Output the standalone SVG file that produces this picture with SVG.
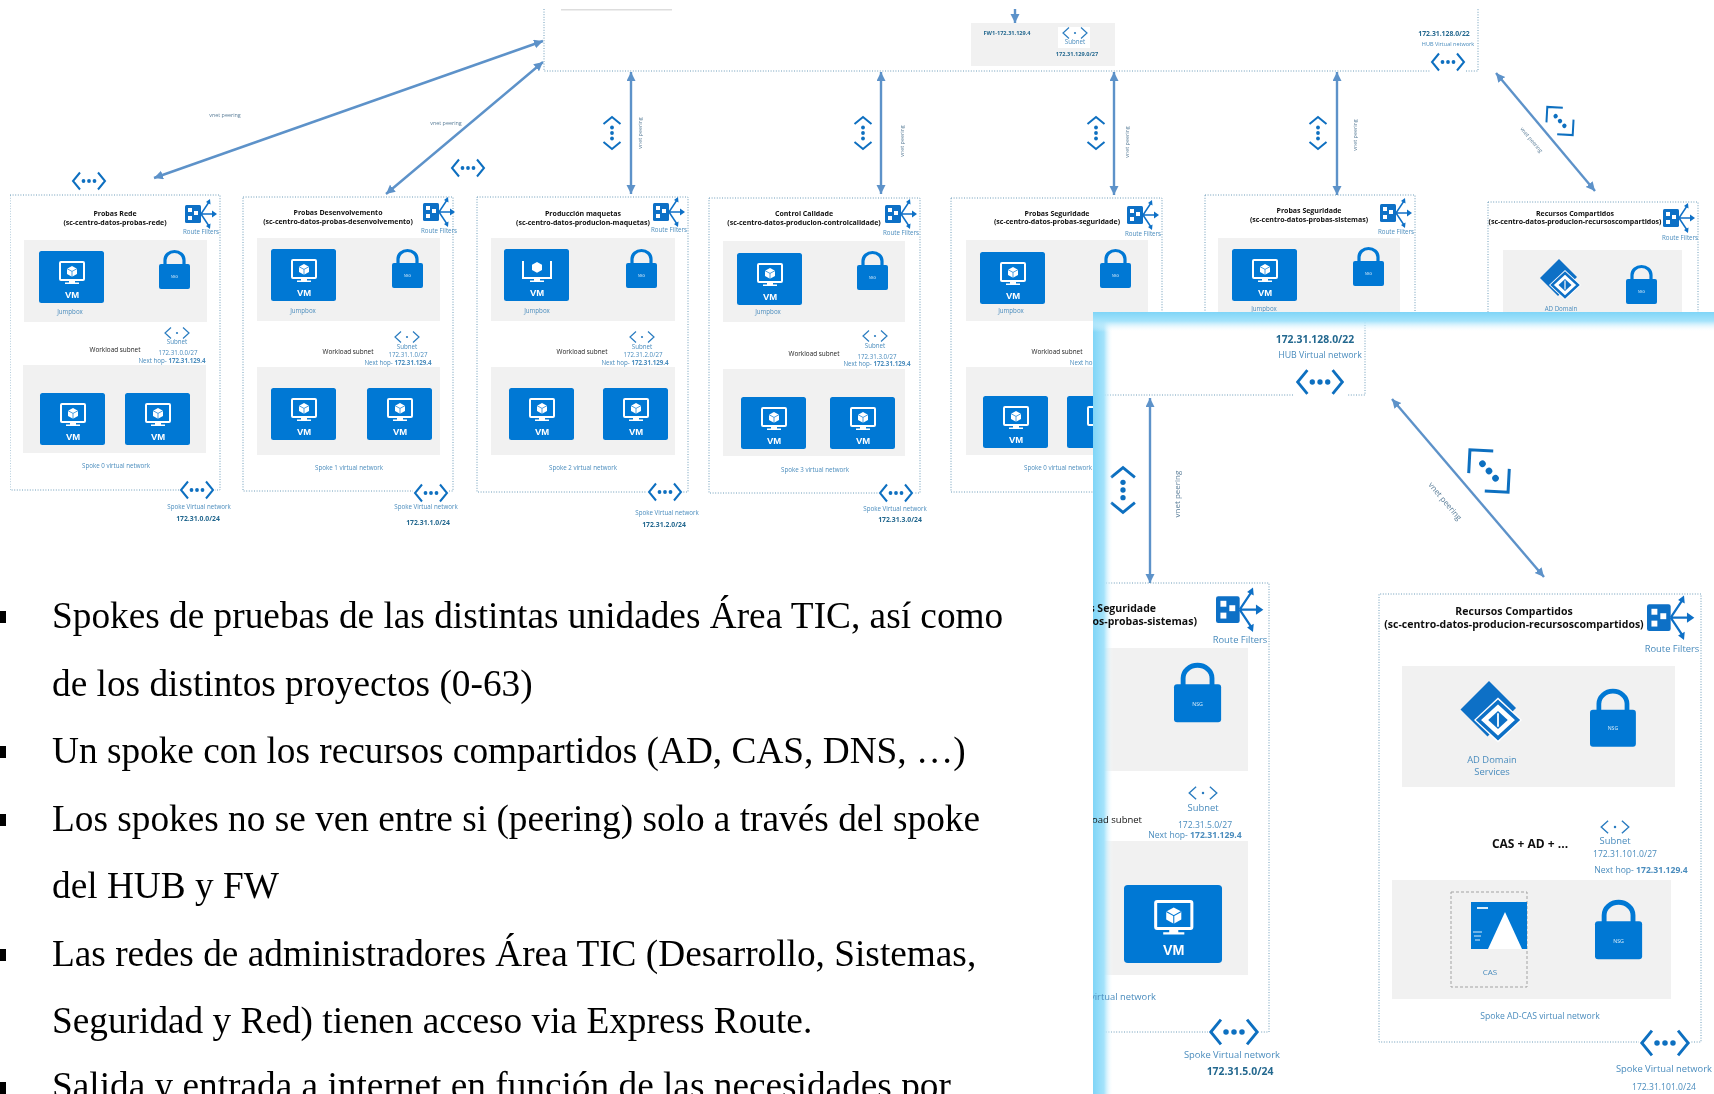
<svg xmlns="http://www.w3.org/2000/svg" width="1714" height="1094" viewBox="0 0 1714 1094">
<style>
text{font-family:"Open Sans","Liberation Sans",sans-serif;text-anchor:middle}
.t{fill:#4a8cbd;font-size:6.2px}
.k{fill:#222;font-size:6.4px}
.b{fill:#24688f;font-size:6.800px;font-weight:700}
.h{fill:#111;font-size:7px;font-weight:700}
.L{fill:#4a8cbd;font-size:9.4px}
.LB{fill:#24688f;font-size:10.400px;font-weight:700}
.LH{fill:#111;font-size:10.500px;font-weight:700}
.LK{fill:#111;font-size:9.500px}
.n{fill:#f1f1f1}
.box{fill:none;stroke:#6d9cb9;stroke-width:1;stroke-dasharray:1 1.6}
.c{stroke:#5d92c9;stroke-width:2.400;fill:none;marker-start:url(#ah);marker-end:url(#ah)}
.p{font-size:37.300px;font-family:"Liberation Serif",serif;text-anchor:start;fill:#000}
.v{font-size:5.400px;fill:#5a7d98}
</style>
<defs>
<marker id="ah" markerUnits="userSpaceOnUse" markerWidth="12" markerHeight="12" refX="9" refY="4.500" orient="auto-start-reverse"><path d="M0 0L9 4.500L0 9z" fill="#5d92c9"/></marker>
<filter id="soft" x="0" y="0" width="100%" height="100%" filterUnits="objectBoundingBox"><feGaussianBlur stdDeviation="0.45"/></filter>
<linearGradient id="gt" x1="0" y1="0" x2="0" y2="1"><stop offset="0" stop-color="#7fd5f7"/><stop offset=".45" stop-color="#a5e3fb"/><stop offset="1" stop-color="#fff" stop-opacity="0"/></linearGradient>
<linearGradient id="gl" x1="0" y1="0" x2="1" y2="0"><stop offset="0" stop-color="#7fd5f7"/><stop offset=".55" stop-color="#a5e3fb"/><stop offset="1" stop-color="#fff" stop-opacity="0"/></linearGradient>
<g id="scr"><rect x="21" y="11" width="24" height="18" fill="none" stroke="#fff" stroke-width="2" rx="1"/><path d="M33 15l5 2.700v5.300l-5 2.800-5-2.800v-5.300z" fill="#fff"/><path d="M28 17.700l5 2.700 5-2.700M33 20.400v5.600" stroke="#0078d4" stroke-width=".7" fill="none"/><path d="M30 29h6v2.500h4v1.500h-14v-1.500h4z" fill="#fff"/></g>
<g id="vm"><rect width="65" height="52" rx="2.500" fill="#0078d4"/><use href="#scr"/><text x="33" y="47" style="font-size:9.500px;fill:#fff;font-weight:600;font-family:'Liberation Sans',sans-serif">VM</text></g>
<g id="vmj"><rect width="65" height="52" rx="2.500" fill="#0078d4"/><path d="M19 12v17h28V12" fill="none" stroke="#fff" stroke-width="2"/><path d="M33 13l5 2.700v5.300l-5 2.800-5-2.800v-5.300z" fill="#fff"/><path d="M30 29h6v2.500h4v1.500h-14v-1.500h4z" fill="#fff"/><text x="33" y="47" style="font-size:9.500px;fill:#fff;font-weight:600;font-family:'Liberation Sans',sans-serif">VM</text></g>
<g id="nsg"><rect y="14" width="31" height="25" rx="2" fill="#0078d4"/><path d="M6 15V10a9.500 8.500 0 0 1 19 0v5" fill="none" stroke="#0078d4" stroke-width="3.200"/><text x="15.500" y="28" style="font-size:3.500px;fill:#d8ecf9">NSG</text></g>
<g id="rf"><rect x="0" y="7" width="16" height="18" rx="1.500" fill="#0f6fc6"/><rect x="3" y="10" width="4" height="4" fill="#fff"/><rect x="9" y="13" width="4" height="4" fill="#fff"/><rect x="3" y="18" width="4" height="4" fill="#fff"/><path d="M16 16H28M16 16L24 4M16 16L24 28" stroke="#0f6fc6" stroke-width="1.500" fill="none"/><path d="M32 16l-5-3.500v7zM25 1l-4 3 4.500 2.500zM25 31l-4-3 4.500-2.500z" fill="#0f6fc6"/></g>
<g id="vnet"><rect x="-18" y="-11" width="36" height="22" fill="#fff"/><path d="M-9-8.500L-16 0l7 8.500M9-8.500L16 0 9 8.500" fill="none" stroke="#0f6fc0" stroke-width="2"/><circle cx="-5.500" r="1.900" fill="#0f6fc0"/><circle r="1.900" fill="#0f6fc0"/><circle cx="5.500" r="1.900" fill="#0f6fc0"/></g>
<g id="diag"><path d="M-8-11L-19 0l11 11M8-11L19 0 8 11" fill="none" stroke="#0f6fc0" stroke-width="2"/><circle cx="-6.500" r="2.200" fill="#0f6fc0"/><circle r="2.200" fill="#0f6fc0"/><circle cx="6.500" r="2.200" fill="#0f6fc0"/></g>
<g id="sub"><path d="M-6-5.500L-12 0l6 5.500M6-5.500L12 0 6 5.500" fill="none" stroke="#2a7cc0" stroke-width="1.200"/><circle r="1.100" fill="#2a7cc0"/></g>
<g id="ad"><path d="M-2-20L-21-1-3 17 16-2z" fill="#0f6fc6"/><path d="M4-9L20 6 4 21-12 6z" fill="#fff"/><path d="M4-6L17 6 4 18-9 6z" fill="none" stroke="#0f6fc6" stroke-width="2.400"/><path d="M4 0L10.500 6 4 12-2.500 6z" fill="#0f6fc6"/><path d="M4 1.500V10.500" stroke="#fff" stroke-width="1.200"/></g>
<clipPath id="ov"><rect x="1093" y="312" width="621" height="782"/></clipPath>
<clipPath id="u"><rect x="0" y="0" width="1714" height="312"/></clipPath>
</defs>
<rect width="1714" height="1094" fill="#fff"/>
<g filter="url(#soft)">
<g id="hub">
<path class="box" d="M544 9V71H1430M1466 71H1478V9"/>
<rect x="561" y="9" width="111" height="1.500" fill="#ddd"/>
<g id="fw1"><rect x="971" y="23" width="144" height="43" class="n"/><rect x="1058" y="27" width="32" height="21" fill="#fff"/><text x="1007" y="35" class="b" style="font-size:5.600px">FW1-172.31.129.4</text><use href="#sub" x="1075" y="33"/><text x="1075" y="44" class="t">Subnet</text><text x="1077" y="56" class="b" style="font-size:5.600px">172.31.129.0/27</text></g>
<text x="1444" y="36" class="b">172.31.128.0/22</text><text x="1448" y="46" class="t" style="font-size:5.500px">HUB Virtual network</text><use href="#vnet" x="1448" y="62"/>
</g>
<g id="connectors">
<path class="c" d="M543 41L154 178"/><path class="c" d="M543 62L386 194"/>
<path class="c" d="M631 72V194"/><path class="c" d="M881 72V194"/><path class="c" d="M1114 72V195"/><path class="c" d="M1337 72V195"/>
<path class="c" d="M1496 73L1595 191"/>
<path d="M1015 9V23" stroke="#5d92c9" stroke-width="2.400" fill="none" marker-end="url(#ah)"/>
</g>
<g id="peer-labels">
<text x="225" y="117" class="v">vnet peering</text><text x="446" y="125" class="v">vnet peering</text>
<use href="#vnet" x="89" y="181"/><use href="#vnet" x="468" y="168"/>
<use href="#vnet" transform="translate(612 133) rotate(90)"/><use href="#vnet" transform="translate(863 133) rotate(90)"/><use href="#vnet" transform="translate(1096 133) rotate(90)"/><use href="#vnet" transform="translate(1318 133) rotate(90)"/>
<text transform="translate(642 133) rotate(-90)" class="v">vnet peering</text><text transform="translate(904 141) rotate(-90)" class="v">vnet peering</text><text transform="translate(1129 142) rotate(-90)" class="v">vnet peering</text><text transform="translate(1357 135) rotate(-90)" class="v">vnet peering</text>
<text transform="translate(1530 141) rotate(50)" class="v">vnet peering</text>
<use href="#diag" transform="translate(1560 121) rotate(48)"/>
</g>
<g id="spoke0"><rect class="box" x="10" y="195" width="210" height="295"/>
<text x="115" y="216" class="h">Probas Rede</text><text x="115" y="225" class="h">(sc-centro-datos-probas-rede)</text>
<use href="#rf" x="185" y="198"/><text x="201" y="234" class="t">Route Filters</text>
<rect class="n" x="24" y="240" width="183" height="82"/><use href="#vm" x="39" y="251"/><text x="70" y="314" class="t">Jumpbox</text><use href="#nsg" x="159" y="250"/>
<use href="#sub" x="177" y="333"/><text x="177" y="344" class="t">Subnet</text><text x="178" y="355" class="t">172.31.0.0/27</text><text x="172" y="363" class="t">Next hop- <tspan font-weight="700">172.31.129.4</tspan></text><text x="115" y="352" class="k">Workload subnet</text>
<rect class="n" x="23" y="365" width="183" height="88"/><use href="#vm" x="40" y="393"/><use href="#vm" x="125" y="393"/><text x="116" y="468" class="t">Spoke 0 virtual network</text>
<use href="#vnet" x="197" y="490"/><text x="199" y="509" class="t">Spoke Virtual network</text><text x="198" y="521" class="b">172.31.0.0/24</text></g>
<g id="spoke1"><rect class="box" x="243" y="197" width="210" height="294"/>
<text x="338" y="215" class="h">Probas Desenvolvemento</text><text x="338" y="224" class="h">(sc-centro-datos-probas-desenvolvemento)</text>
<use href="#rf" x="423" y="196"/><text x="439" y="233" class="t">Route Filters</text>
<rect class="n" x="257" y="238" width="183" height="83"/><use href="#vm" x="271" y="249"/><text x="303" y="313" class="t">Jumpbox</text><use href="#nsg" x="392" y="249"/>
<use href="#sub" x="407" y="337"/><text x="407" y="349" class="t">Subnet</text><text x="408" y="357" class="t">172.31.1.0/27</text><text x="398" y="365" class="t">Next hop- <tspan font-weight="700">172.31.129.4</tspan></text><text x="348" y="354" class="k">Workload subnet</text>
<rect class="n" x="257" y="367" width="183" height="88"/><use href="#vm" x="271" y="388"/><use href="#vm" x="367" y="388"/><text x="349" y="470" class="t">Spoke 1 virtual network</text>
<use href="#vnet" x="431" y="493"/><text x="426" y="509" class="t">Spoke Virtual network</text><text x="428" y="525" class="b">172.31.1.0/24</text></g>
<g id="spoke2"><rect class="box" x="477" y="197" width="211" height="295"/>
<text x="583" y="216" class="h">Producción maquetas</text><text x="583" y="225" class="h">(sc-centro-datos-producion-maquetas)</text>
<use href="#rf" x="653" y="196"/><text x="669" y="232" class="t">Route Filters</text>
<rect class="n" x="491" y="238" width="184" height="83"/><use href="#vmj" x="504" y="249"/><text x="537" y="313" class="t">Jumpbox</text><use href="#nsg" x="626" y="249"/>
<use href="#sub" x="642" y="337"/><text x="642" y="349" class="t">Subnet</text><text x="643" y="357" class="t">172.31.2.0/27</text><text x="635" y="365" class="t">Next hop- <tspan font-weight="700">172.31.129.4</tspan></text><text x="582" y="354" class="k">Workload subnet</text>
<rect class="n" x="491" y="367" width="184" height="88"/><use href="#vm" x="509" y="388"/><use href="#vm" x="603" y="388"/><text x="583" y="470" class="t">Spoke 2 virtual network</text>
<use href="#vnet" x="665" y="492"/><text x="667" y="515" class="t">Spoke Virtual network</text><text x="664" y="527" class="b">172.31.2.0/24</text></g>
<g id="spoke3"><rect class="box" x="709" y="198" width="211" height="295"/>
<text x="804" y="216" class="h">Control Calidade</text><text x="804" y="225" class="h">(sc-centro-datos-producion-controlcalidade)</text>
<use href="#rf" x="885" y="198"/><text x="901" y="235" class="t">Route Filters</text>
<rect class="n" x="723" y="241" width="182" height="81"/><use href="#vm" x="737" y="253"/><text x="768" y="314" class="t">Jumpbox</text><use href="#nsg" x="857" y="251"/>
<use href="#sub" x="875" y="336"/><text x="875" y="348" class="t">Subnet</text><text x="877" y="359" class="t">172.31.3.0/27</text><text x="877" y="366" class="t">Next hop- <tspan font-weight="700">172.31.129.4</tspan></text><text x="814" y="356" class="k">Workload subnet</text>
<rect class="n" x="723" y="369" width="182" height="87"/><use href="#vm" x="741" y="397"/><use href="#vm" x="830" y="397"/><text x="815" y="472" class="t">Spoke 3 virtual network</text>
<use href="#vnet" x="896" y="493"/><text x="895" y="511" class="t">Spoke Virtual network</text><text x="900" y="522" class="b">172.31.3.0/24</text></g>
<g id="spoke4"><rect class="box" x="951" y="198" width="211" height="294"/>
<text x="1057" y="216" class="h">Probas Seguridade</text><text x="1057" y="224" class="h">(sc-centro-datos-probas-seguridade)</text>
<use href="#rf" x="1127" y="199"/><text x="1143" y="236" class="t">Route Filters</text>
<rect class="n" x="966" y="240" width="182" height="81"/><use href="#vm" x="980" y="252"/><text x="1011" y="313" class="t">Jumpbox</text><use href="#nsg" x="1100" y="249"/>
<text x="1057" y="354" class="k">Workload subnet</text><text x="1083" y="365" class="t">Next hop</text>
<rect class="n" x="966" y="367" width="182" height="88"/><use href="#vm" x="983" y="396"/><use href="#vm" x="1067" y="396"/><text x="1058" y="470" class="t">Spoke 0 virtual network</text></g>
<g id="spoke5" clip-path="url(#u)"><rect class="box" x="1205" y="195" width="210" height="295"/>
<text x="1309" y="213" class="h">Probas Seguridade</text><text x="1309" y="222" class="h">(sc-centro-datos-probas-sistemas)</text>
<use href="#rf" x="1380" y="197"/><text x="1396" y="234" class="t">Route Filters</text>
<rect class="n" x="1218" y="238" width="182" height="80"/><use href="#vm" x="1232" y="249"/><text x="1264" y="311" class="t">Jumpbox</text><use href="#nsg" x="1353" y="247"/></g>
<g id="spoke6" clip-path="url(#u)"><rect class="box" x="1488" y="202" width="210" height="200"/>
<text x="1575" y="216" class="h">Recursos Compartidos</text><text x="1575" y="224" class="h">(sc-centro-datos-producion-recursoscompartidos)</text>
<use href="#rf" x="1663" y="202"/><text x="1680" y="240" class="t">Route Filters</text>
<rect class="n" x="1503" y="250" width="179" height="80"/><use href="#ad" x="1561" y="279"/><text x="1561" y="311" class="t">AD Domain</text><use href="#nsg" x="1626" y="265"/></g>
<g id="inset">
<rect x="1093" y="312" width="621" height="782" fill="#fff"/>
<g clip-path="url(#ov)">
<g id="inset-hub"><path class="box" d="M1365 312V395H1347M1293 395H1093"/><text x="1315" y="343" class="LB">172.31.128.0/22</text><text x="1320" y="358" class="L" style="font-size:8.800px">HUB Virtual network</text><use href="#vnet" transform="translate(1320 382) scale(1.400)"/></g>
<g id="inset-connectors"><path class="c" d="M1150 398V583"/><path class="c" d="M1392 399L1544 577"/></g>
<use href="#vnet" transform="translate(1123 490) rotate(90) scale(1.400)"/>
<text transform="translate(1180 494) rotate(-90)" class="v" style="font-size:8px">vnet peering</text>
<text transform="translate(1443 503) rotate(50)" class="v" style="font-size:8px">vnet peering</text>
<use href="#diag" transform="translate(1489 471) rotate(48) scale(1.500)"/>
<g id="inset-spoke5"><path class="box" d="M1093 583H1269V1032H1250M1216 1032H1093"/>
<use href="#rf" transform="translate(1216 586) scale(1.480)"/><text x="1240" y="643" class="L">Route Filters</text>
<rect class="n" x="1093" y="648" width="155" height="123"/><use href="#nsg" transform="translate(1174 663) scale(1.520)"/>
<use href="#sub" transform="translate(1203 793) scale(1.150)"/><text x="1203" y="811" class="L">Subnet</text><text x="1205" y="828" class="t" style="font-size:8.600px">172.31.5.0/27</text><text x="1195" y="838" class="t" style="font-size:8.600px">Next hop- <tspan font-weight="700">172.31.129.4</tspan></text>
<rect class="n" x="1093" y="841" width="155" height="134"/><use href="#vm" transform="translate(1124 885) scale(1.508 1.500)"/>
<use href="#vnet" transform="translate(1234 1032) scale(1.450)"/><text x="1232" y="1058" class="L">Spoke Virtual network</text><text x="1240" y="1075" class="LB">172.31.5.0/24</text></g>
<g id="inset-spoke6"><path class="box" d="M1650 1042H1379V594H1701V1042H1685"/>
<text x="1514" y="615" class="LH">Recursos Compartidos</text><text x="1514" y="628" class="LH">(sc-centro-datos-producion-recursoscompartidos)</text>
<use href="#rf" transform="translate(1647 594) scale(1.480)"/><text x="1672" y="652" class="L">Route Filters</text>
<rect class="n" x="1402" y="666" width="273" height="121"/><use href="#ad" transform="translate(1492 711) scale(1.500)"/><text x="1492" y="763" class="L">AD Domain</text><text x="1492" y="775" class="L">Services</text><use href="#nsg" transform="translate(1590 689) scale(1.480)"/>
<text x="1530" y="848" class="LH" style="font-size:12px">CAS + AD + ...</text><use href="#sub" transform="translate(1615 827) scale(1.150)"/><text x="1615" y="844" class="L">Subnet</text><text x="1625" y="857" class="t" style="font-size:8.600px">172.31.101.0/27</text><text x="1641" y="873" class="t" style="font-size:8.600px">Next hop- <tspan font-weight="700">172.31.129.4</tspan></text>
<rect class="n" x="1392" y="880" width="279" height="119"/>
<rect x="1451" y="892" width="76" height="95" fill="none" stroke="#a3a3a3" stroke-width="1" stroke-dasharray="3 2"/>
<rect x="1471" y="902" width="56" height="47" fill="#0078d4"/><path d="M1505 912L1522 949H1488z" fill="#fff"/><rect x="1477" y="907" width="11" height="2" fill="#d9ecf9"/><path d="M1473 932h9M1474 936h7M1475 940h5" stroke="#d9ecf9" stroke-width="1"/>
<text x="1490" y="975" class="t" style="font-size:8px">CAS</text><use href="#nsg" transform="translate(1595 900) scale(1.520)"/>
<text x="1540" y="1019" class="L" style="font-size:8.600px">Spoke AD-CAS virtual network</text>
<use href="#vnet" transform="translate(1665 1043) scale(1.450)"/><text x="1664" y="1072" class="L">Spoke Virtual network</text><text x="1664" y="1090" class="t" style="font-size:8.600px">172.31.101.0/24</text></g>
<rect x="1093" y="312" width="20" height="782" fill="url(#gl)"/>
<rect x="1093" y="312" width="621" height="20" fill="url(#gt)"/>
<g id="inset-spoke5-cut-texts">
<text x="1156" y="612" class="LH" style="text-anchor:end">Probas Seguridade</text><text x="1197" y="625" class="LH" style="text-anchor:end">(sc-centro-datos-probas-sistemas)</text>
<text x="1142" y="823" class="LK" style="text-anchor:end">Workload subnet</text>
<text x="1156" y="1000" class="L" style="text-anchor:end">Spoke 0 virtual network</text>
</g>
</g>
</g>
</g>
<g id="bullets">
<rect x="0" y="611" width="6" height="12"/><text x="52" y="628" class="p">Spokes de pruebas de las distintas unidades Área TIC, así como</text>
<text x="52" y="696" class="p">de los distintos proyectos (0-63)</text>
<rect x="0" y="746" width="6" height="12"/><text x="52" y="763" class="p">Un spoke con los recursos compartidos (AD, CAS, DNS, …)</text>
<rect x="0" y="814" width="6" height="12"/><text x="52" y="831" class="p">Los spokes no se ven entre si (peering) solo a través del spoke</text>
<text x="52" y="898" class="p">del HUB y FW</text>
<rect x="0" y="949" width="6" height="12"/><text x="52" y="966" class="p">Las redes de administradores Área TIC (Desarrollo, Sistemas,</text>
<text x="52" y="1033" class="p">Seguridad y Red) tienen acceso via Express Route.</text>
<rect x="0" y="1082" width="6" height="12"/><text x="52" y="1098" class="p">Salida y entrada a internet en función de las necesidades por</text>
</g>
</svg>
